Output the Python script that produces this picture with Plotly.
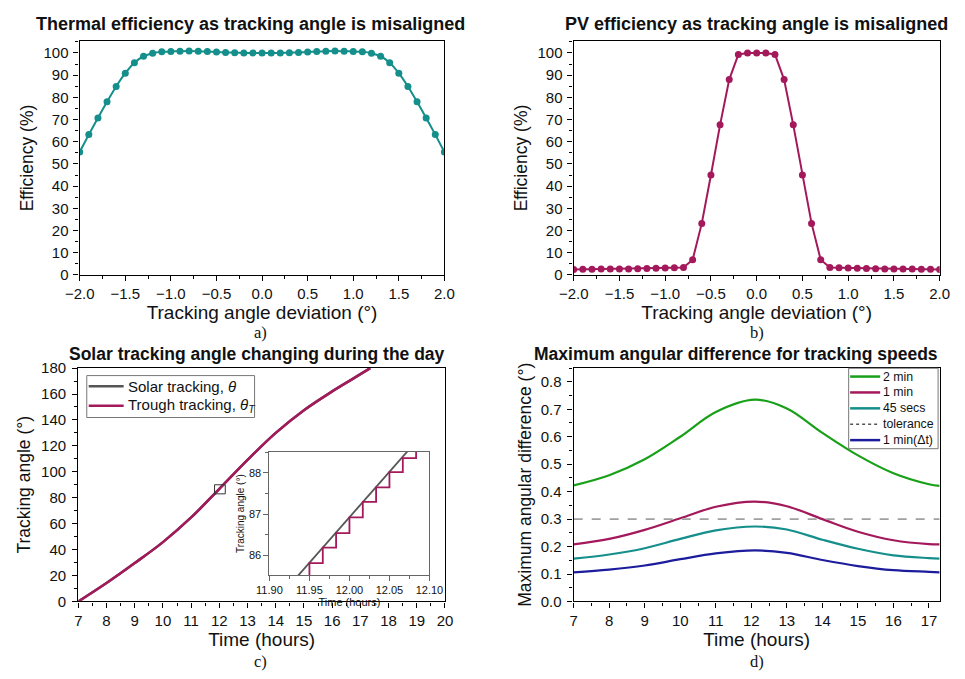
import plotly.graph_objects as go

# ---------------- data ----------------
dev_deg = [-2.0, -1.9, -1.8, -1.7, -1.6, -1.5, -1.4, -1.3, -1.2, -1.1, -1.0,
           -0.9, -0.8, -0.7, -0.6, -0.5, -0.4, -0.3, -0.2, -0.1, 0.0,
           0.1, 0.2, 0.3, 0.4, 0.5, 0.6, 0.7, 0.8, 0.9, 1.0,
           1.1, 1.2, 1.3, 1.4, 1.5, 1.6, 1.7, 1.8, 1.9, 2.0]
thermal_eff = [55.4, 63.2, 70.7, 78.0, 84.9, 90.9, 95.6, 98.5, 99.9, 100.5, 100.7,
               100.8, 100.9, 100.8, 100.6, 100.4, 100.2, 100.1, 100.0, 100.0, 100.0,
               100.0, 100.0, 100.1, 100.2, 100.4, 100.6, 100.8, 100.9, 100.8, 100.7,
               100.5, 99.9, 98.5, 95.6, 90.9, 84.9, 78.0, 70.7, 63.2, 55.4]
pv_eff = [2.4, 2.5, 2.5, 2.6, 2.6, 2.7, 2.7, 2.8, 2.9, 3.0, 3.1,
          3.2, 3.3, 6.8, 23.2, 45.0, 67.6, 88.0, 99.3, 100.0, 100.0,
          100.0, 99.3, 88.0, 67.6, 45.0, 23.2, 6.8, 3.3, 3.2, 3.1,
          3.0, 2.9, 2.8, 2.7, 2.7, 2.6, 2.6, 2.5, 2.5, 2.4]

day_hours = [7, 8, 9, 10, 11, 12, 13, 14, 15, 16, 16.8, 17.35]
track_angle = [0, 14.2, 29.6, 45.8, 64.8, 86.9, 109.2, 130.0, 147.5, 162.0, 172.6, 180.0]

inset_solar_t = [11.93, 12.08]
inset_solar_a = [85.38, 88.69]
inset_trough_t = [11.93, 11.95, 11.9667, 11.9833, 12.0, 12.0167, 12.0333, 12.05, 12.0667, 12.0833, 12.1]
inset_trough_a = [85.44, 85.81, 86.19, 86.54, 86.92, 87.30, 87.65, 88.02, 88.36, 88.72, 88.72]

diff_hours = [7, 8, 9, 10, 11, 12.1, 13, 14, 15, 16, 17, 17.3]
diff_2min = [0.423, 0.460, 0.518, 0.600, 0.690, 0.735, 0.703, 0.614, 0.532, 0.467, 0.427, 0.421]
diff_1min = [0.208, 0.228, 0.261, 0.303, 0.345, 0.364, 0.347, 0.300, 0.254, 0.223, 0.209, 0.208]
diff_45s = [0.156, 0.171, 0.194, 0.228, 0.259, 0.273, 0.262, 0.225, 0.192, 0.168, 0.158, 0.156]
diff_dt = [0.106, 0.116, 0.131, 0.154, 0.175, 0.186, 0.177, 0.151, 0.129, 0.114, 0.108, 0.106]
tolerance_x = [7, 17.3]
tolerance_y = [0.3, 0.3]

legend_c_names = ["Solar tracking, <i>θ</i>", "Trough tracking, <i>θ<sub>T</sub></i>"]
legend_d_names = ["2 min", "1 min", "45 secs", "tolerance", "1 min(Δt)"]

TEAL = "#148F8B"
PURPLE = "#A3195B"
GREEN = "#18A018"
BLUE = "#1C1C9C"
SOLAR = "#555555"
TOL = "#A0A0A0"
FONT = "Liberation Sans, Arial, sans-serif"

fig = go.Figure()

# a) thermal
fig.add_trace(go.Scatter(x=dev_deg, y=thermal_eff, mode="lines+markers",
                         line=dict(color=TEAL, width=2, shape="spline", smoothing=0.5),
                         marker=dict(color=TEAL, size=7), showlegend=False,
                         xaxis="x", yaxis="y"))
# b) PV
fig.add_trace(go.Scatter(x=dev_deg, y=pv_eff, mode="lines+markers",
                         line=dict(color=PURPLE, width=2),
                         marker=dict(color=PURPLE, size=7), showlegend=False,
                         xaxis="x2", yaxis="y2"))
# c) tracking angle
fig.add_trace(go.Scatter(x=day_hours, y=track_angle, mode="lines",
                         line=dict(color=SOLAR, width=2.5, shape="spline"),
                         name=legend_c_names[0], showlegend=False,
                         xaxis="x3", yaxis="y3"))
fig.add_trace(go.Scatter(x=day_hours, y=track_angle, mode="lines",
                         line=dict(color=PURPLE, width=2.5, shape="spline"),
                         name=legend_c_names[1], showlegend=False,
                         xaxis="x3", yaxis="y3"))
# inset
fig.add_trace(go.Scatter(x=inset_solar_t, y=inset_solar_a, mode="lines",
                         line=dict(color=SOLAR, width=1.8), showlegend=False,
                         xaxis="x5", yaxis="y5"))
fig.add_trace(go.Scatter(x=inset_trough_t, y=inset_trough_a, mode="lines",
                         line=dict(color=PURPLE, width=1.8, shape="hv"), showlegend=False,
                         xaxis="x5", yaxis="y5"))
# d) angular difference
for ys, nm, col in [(diff_2min, legend_d_names[0], GREEN), (diff_1min, legend_d_names[1], PURPLE),
                    (diff_45s, legend_d_names[2], TEAL)]:
    fig.add_trace(go.Scatter(x=diff_hours, y=ys, mode="lines", name=nm, showlegend=False,
                             line=dict(color=col, width=2.2, shape="spline"),
                             xaxis="x4", yaxis="y4"))
fig.add_trace(go.Scatter(x=tolerance_x, y=tolerance_y, mode="lines", name=legend_d_names[3],
                         showlegend=False,
                         line=dict(color=TOL, width=1.6, dash="dash"),
                         xaxis="x4", yaxis="y4"))
fig.add_trace(go.Scatter(x=diff_hours, y=diff_dt, mode="lines", name=legend_d_names[4],
                         showlegend=False,
                         line=dict(color=BLUE, width=2.2, shape="spline"),
                         xaxis="x4", yaxis="y4"))

W, H = 965, 679


def px_x(p):
    return p / W


def px_y(p):
    return 1 - p / H


def ax(dom, anchor, rng, dtick, minor_dtick, title, tsize=19, standoff=1, tickfs=15,
       fmt=None, color="black", lw=1.4, lblpad=0):
    d = dict(domain=dom, anchor=anchor, range=rng, dtick=dtick, tick0=0,
             showline=True, linecolor=color, linewidth=lw, mirror=True,
             ticks="outside", ticklen=5, tickwidth=1.2, tickcolor=color,
             ticklabelstandoff=lblpad,
             minor=dict(dtick=minor_dtick, ticks="outside", ticklen=3, tickwidth=1,
                        tickcolor=color, showgrid=False),
             showgrid=False, zeroline=False,
             tickfont=dict(family=FONT, size=tickfs, color="#111"),
             title=dict(text=title, font=dict(family=FONT, size=tsize, color="#111"),
                        standoff=standoff))
    if fmt:
        d["tickformat"] = fmt
    return d


xa = [px_x(66.7), px_x(442.7)]
xb = [px_x(576), px_x(953.3)]
xc = [px_x(65.3), px_x(443.3)]
ytop = [px_y(272.7), px_y(33)]
ybot = [px_y(607.7), px_y(368.3)]

fig.update_layout(
    width=W, height=H, margin=dict(l=0, r=0, t=0, b=0),
    paper_bgcolor="white", plot_bgcolor="white",
    font=dict(family=FONT, color="#111"), showlegend=False,
    xaxis=ax(xa, "y", [-2, 2], 0.5, 0.25, "Tracking angle deviation (°)", fmt=".1f"),
    yaxis=ax(ytop, "x", [0, 105.3], 10, 5, "Efficiency (%)", tsize=17.5, standoff=5, lblpad=2),
    xaxis2=ax(xb, "y2", [-2, 2], 0.5, 0.25, "Tracking angle deviation (°)", fmt=".1f"),
    yaxis2=ax(ytop, "x2", [0, 105.3], 10, 5, "Efficiency (%)", tsize=17.5, standoff=5, lblpad=2),
    xaxis3=ax(xc, "y3", [7, 20], 1, 0.5, "Time (hours)", standoff=1),
    yaxis3=ax(ybot, "x3", [0, 180], 20, 10, "Tracking angle (°)", tsize=17.5, standoff=5,
              lblpad=3),
    xaxis4=ax(xb, "y4", [7, 17.3], 1, 0.5, "Time (hours)", standoff=1),
    yaxis4=ax(ybot, "x4", [0, 0.85], 0.1, 0.05, "Maximum angular difference (°)", tsize=17.5,
              standoff=4, fmt=".1f", lblpad=3),
    xaxis5=ax([px_x(262.3), px_x(427.3)], "y5", [11.90, 12.10], 0.05, 0.025, "Time (hours)",
              tsize=11, standoff=0, tickfs=11, fmt=".2f", color="#666", lw=1),
    yaxis5=ax([px_y(580.7), px_y(454.3)], "x5", [85.52, 88.51], 1, 0.5, "Tracking angle (°)",
              tsize=10, standoff=2, tickfs=11, color="#666", lw=1),
)

# zoom box in panel c
fig.add_shape(type="rect", xref="x3", yref="y3", x0=11.83, x1=12.21, y0=83, y1=90,
              line=dict(color="#333", width=1), fillcolor="rgba(0,0,0,0)")
# inset background
fig.add_shape(type="rect", xref="x5 domain", yref="y5 domain", x0=0, x1=1, y0=0, y1=1,
              line=dict(width=0), fillcolor="white", layer="below")


def legend_box(x0, y0, x1, y1, line_x0, line_x1, text_x, rows, names, styles, fsize):
    fig.add_shape(type="rect", xref="paper", yref="paper",
                  x0=px_x(x0), x1=px_x(x1), y0=px_y(y1), y1=px_y(y0),
                  line=dict(color="#777", width=1), fillcolor="white")
    for ry, nm, (col, dash) in zip(rows, names, styles):
        fig.add_shape(type="line", xref="paper", yref="paper",
                      x0=px_x(line_x0), x1=px_x(line_x1), y0=px_y(ry), y1=px_y(ry),
                      line=dict(color=col, width=2.5 if dash == "solid" else 1.6, dash=dash))
        fig.add_annotation(text=nm, x=px_x(text_x), y=px_y(ry), xref="paper", yref="paper",
                           showarrow=False, xanchor="left", yanchor="middle",
                           font=dict(family=FONT, size=fsize, color="#111"))


legend_box(74, 376, 247, 419, 76, 112, 114, [387, 407], legend_c_names,
           [(SOLAR, "solid"), (PURPLE, "solid")], 15)
legend_box(859.5, 368.5, 951.7, 451, 861, 892, 893, [377, 393.3, 409.6, 425.9, 442.2],
           legend_d_names,
           [(GREEN, "solid"), (PURPLE, "solid"), (TEAL, "solid"), ("#555", "3px,3px"),
            (BLUE, "solid")],
           12.3)

titles = [("Thermal efficiency as tracking angle is misaligned", 243, 15, 18),
          ("PV efficiency as tracking angle is misaligned", 764, 15, 18),
          ("Solar tracking angle changing during the day", 249, 353.5, 17.5),
          ("Maximum angular difference for tracking speeds", 743, 353.5, 17.5)]
for txt, cx, cy, fs in titles:
    fig.add_annotation(text=f"<b>{txt}</b>", x=px_x(cx), y=px_y(cy), xref="paper", yref="paper",
                       showarrow=False, xanchor="center", yanchor="middle",
                       font=dict(family=FONT, size=fs, color="#111"))

labels = [("a)", 253, 332), ("b)", 765, 332), ("c)", 253, 669), ("d)", 765, 669)]
for txt, cx, cy in labels:
    fig.add_annotation(text=txt, x=px_x(cx), y=px_y(cy), xref="paper", yref="paper",
                       showarrow=False, xanchor="center", yanchor="middle",
                       font=dict(family="Liberation Serif, Times New Roman, serif", size=16.5,
                                 color="#111"))

fig.write_html("out.html")
